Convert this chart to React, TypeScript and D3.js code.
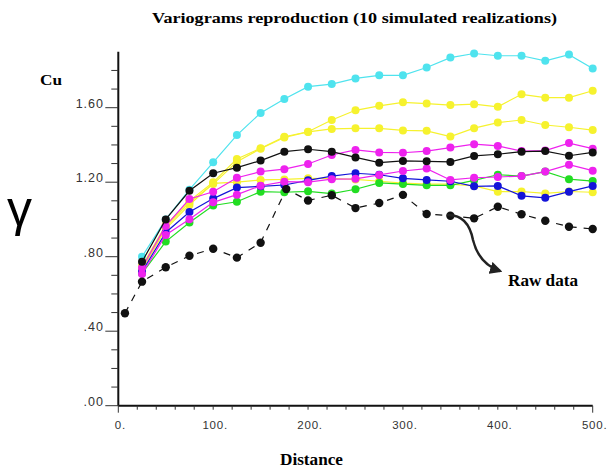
import React from "react";
import * as d3 from "d3";

const lags = [25, 50, 75, 100, 125, 150, 175, 200, 225, 250, 275, 300, 325, 350, 375, 400, 425, 450, 475, 500];

const cyanSim = [0.8, 1.0, 1.16, 1.307, 1.453, 1.572, 1.647, 1.713, 1.727, 1.757, 1.774, 1.774, 1.816, 1.869, 1.891, 1.879, 1.879, 1.852, 1.885, 1.81];
const yellowUpper = [0.75, 0.97, 1.1, 1.2, 1.325, 1.382, 1.444, 1.471, 1.534, 1.586, 1.61, 1.629, 1.622, 1.614, 1.619, 1.605, 1.672, 1.654, 1.654, 1.691];
const yellowMid = [0.74, 0.96, 1.09, 1.19, 1.31, 1.38, 1.44, 1.47, 1.486, 1.489, 1.489, 1.478, 1.476, 1.445, 1.49, 1.52, 1.534, 1.507, 1.495, 1.48];
const yellowLower = [0.73, 0.95, 1.078, 1.194, 1.2, 1.212, 1.215, 1.221, 1.22, 1.215, 1.205, 1.195, 1.19, 1.19, 1.18, 1.149, 1.15, 1.14, 1.15, 1.146];
const greenSim = [0.71, 0.881, 0.984, 1.075, 1.095, 1.149, 1.146, 1.151, 1.139, 1.162, 1.196, 1.19, 1.183, 1.183, 1.21, 1.24, 1.233, 1.257, 1.216, 1.206];
const blueSim = [0.72, 0.93, 1.04, 1.112, 1.171, 1.178, 1.185, 1.21, 1.233, 1.248, 1.24, 1.221, 1.212, 1.205, 1.178, 1.18, 1.127, 1.116, 1.149, 1.18];
const magentaLower = [0.707, 0.917, 1.001, 1.092, 1.133, 1.181, 1.203, 1.2, 1.216, 1.218, 1.239, 1.26, 1.273, 1.212, 1.224, 1.228, 1.233, 1.257, 1.294, 1.262];
const magentaUpper = [0.741, 0.965, 1.11, 1.149, 1.224, 1.257, 1.27, 1.298, 1.346, 1.373, 1.36, 1.358, 1.367, 1.386, 1.404, 1.395, 1.367, 1.37, 1.41, 1.38];
const blackSim = [0.773, 1.0, 1.154, 1.248, 1.278, 1.316, 1.364, 1.377, 1.364, 1.333, 1.305, 1.314, 1.312, 1.309, 1.341, 1.35, 1.364, 1.367, 1.342, 1.36];

const rawDist = [7, 25, 50, 75, 100, 125, 150, 177, 200, 225, 250, 275, 300, 325, 350, 375, 400, 425, 450, 475, 500];
const rawValues = [0.496, 0.666, 0.743, 0.805, 0.843, 0.795, 0.875, 1.163, 1.102, 1.13, 1.061, 1.088, 1.132, 1.029, 1.02, 1.006, 1.068, 1.028, 0.993, 0.961, 0.949];

const seriesColors = ["#4fe3ee", "#f6f22e", "#f6f22e", "#f6f22e", "#22dd22", "#1414d8", "#ee22ee", "#ee22ee", "#111111"];
const seriesList = [cyanSim, yellowUpper, yellowMid, yellowLower, greenSim, blueSim, magentaLower, magentaUpper, blackSim];

const yMajorTicks = [0, 0.4, 0.8, 1.2, 1.6];
const xMajorTicks = [0, 100, 200, 300, 400, 500];

export default function App() {
  const x = d3.scaleLinear().domain([0, 500]).range([118.3, 592.7]);
  const y = d3.scaleLinear().domain([0, 1.6]).range([405.7, 107.7]);
  const line = d3.line<[number, number]>().x((d) => x(d[0])).y((d) => y(d[1]));

  const yMinor = d3.range(0, 1.81, 0.1);
  const xMinor = d3.range(0, 501, 20);
  const fmtY = (v: number) => d3.format(".2f")(v).replace(/^0/, "");
  const serif = "'Liberation Serif', 'Times New Roman', serif";
  const sans = "'Liberation Sans', Arial, sans-serif";

  return (
    <svg width={607} height={472} style={{ position: "absolute", left: 0, top: 0, background: "#fff" }} fontFamily={sans}>
      <defs>
        <marker id="arrow" viewBox="0 0 10 10" refX="8" refY="5" markerWidth="5" markerHeight="5" orient="auto">
          <path d="M0,0 L10,5 L0,10 z" fill="#222" />
        </marker>
      </defs>
      <text x={152} y={23} textLength={405} lengthAdjust="spacingAndGlyphs" fontFamily={serif} fontWeight="bold" fontSize={14.5}>
        Variograms reproduction (10 simulated realizations)
      </text>
      <text x={40} y={85} textLength={22} lengthAdjust="spacingAndGlyphs" fontFamily={serif} fontWeight="bold" fontSize={15}>Cu</text>
      <text x={7} y={226} fontFamily={sans} fontSize={50}>γ</text>
      <text x={280} y={465} textLength={63} lengthAdjust="spacingAndGlyphs" fontFamily={serif} fontWeight="bold" fontSize={16}>Distance</text>
      <text x={508} y={286} textLength={70} lengthAdjust="spacingAndGlyphs" fontFamily={serif} fontWeight="bold" fontSize={16}>Raw data</text>

      {/* axes */}
      <line x1={x(0)} x2={x(0)} y1={y(0)} y2={y(1.9)} stroke="#111" strokeWidth={2} />
      <line x1={x(0)} x2={x(500)} y1={y(0)} y2={y(0)} stroke="#111" strokeWidth={2} />
      {yMinor.map((v, i) => {
        const major = yMajorTicks.some((m) => Math.abs(m - v) < 1e-6);
        return <line key={"ym" + i} x1={x(0) - (major ? 13 : 7)} x2={x(0)} y1={y(v)} y2={y(v)} stroke="#333" strokeWidth={1} />;
      })}
      {yMajorTicks.map((v) => (
        <text key={"yl" + v} x={104} y={y(v)} textAnchor="end" fontSize={12.5} letterSpacing={1} fill="#333">
          {fmtY(v)}
        </text>
      ))}
      {xMinor.map((v, i) => (
        <line key={"xm" + i} x1={x(v)} x2={x(v)} y1={y(0)} y2={y(0) + (v === 0 || v === 500 ? 7 : 4)} stroke="#333" strokeWidth={1} />
      ))}
      {xMajorTicks.map((v) => (
        <text key={"xl" + v} x={x(v) - (String(v).length * 7.2) / 2} y={429} fontSize={11.5} letterSpacing={0.8} fill="#333">
          {v + "."}
        </text>
      ))}

      {/* simulated realizations */}
      {seriesList.map((s, si) => (
        <g key={"s" + si}>
          <path d={line(lags.map((l, i) => [l, s[i]]) as [number, number][]) || ""} fill="none" stroke={seriesColors[si]} strokeWidth={1.2} />
          {lags.map((l, i) => (
            <circle key={i} cx={x(l)} cy={y(s[i])} r={4} fill={seriesColors[si]} />
          ))}
        </g>
      ))}

      {/* raw data */}
      <path d={line(rawDist.map((l, i) => [l, rawValues[i]]) as [number, number][]) || ""} fill="none" stroke="#111" strokeWidth={1.2} strokeDasharray="7,7" />
      {rawDist.map((l, i) => (
        <circle key={"r" + i} cx={x(l)} cy={y(rawValues[i])} r={4.2} fill="#111" />
      ))}

      <path d="M447,215 Q468,214 473,240 Q479,264 500,271" fill="none" stroke="#222" strokeWidth={2.5} markerEnd="url(#arrow)" />
    </svg>
  );
}
